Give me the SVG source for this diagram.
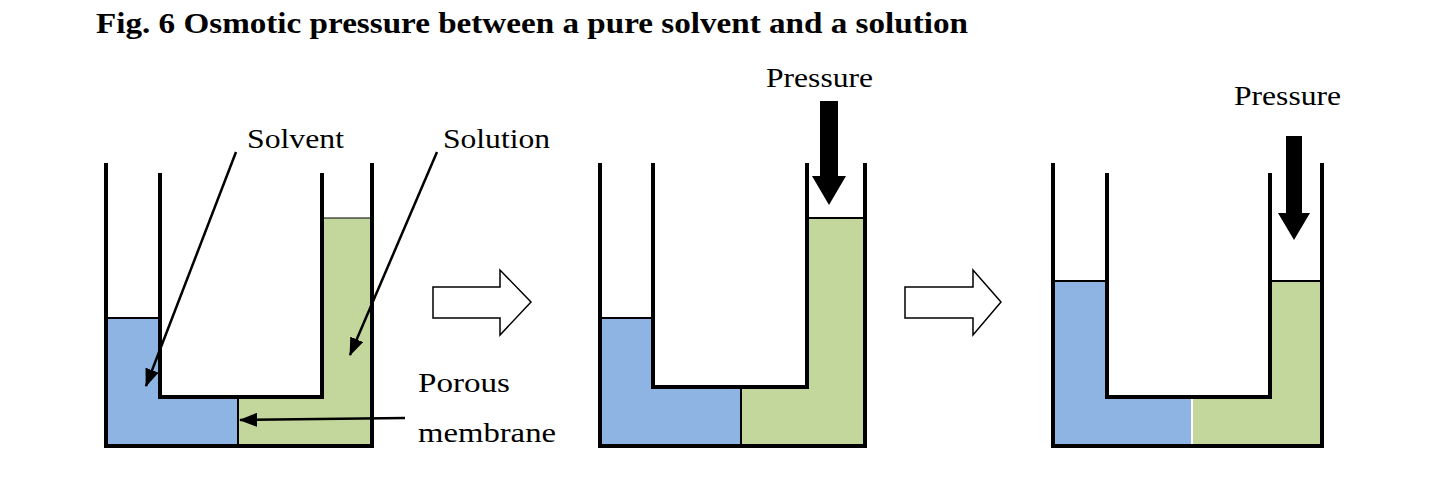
<svg xmlns="http://www.w3.org/2000/svg" width="1437" height="480" viewBox="0 0 1437 480">
<style>
text{font-family:"Liberation Serif",serif;fill:#000}
.t{font-size:29px;font-weight:bold}
.l{font-size:27px}
.w{stroke:#000;stroke-width:4;fill:none;stroke-linecap:square}
.b{fill:#8eb4e3}
.g{fill:#c3d69b}
.m{stroke:#000;stroke-width:2}
.p{stroke:#000;stroke-width:2.5;fill:none}
.h{fill:#fff;stroke:#000;stroke-width:1.5}
</style>
<defs>
<marker id="a2" markerWidth="18" markerHeight="14" refX="17" refY="7" orient="auto" markerUnits="userSpaceOnUse" viewBox="0 0 18 14"><path d="M0,0L18,7L0,14z" fill="#000"/></marker></defs>
<text class="t" x="96" y="33" textLength="872" lengthAdjust="spacingAndGlyphs">Fig. 6 Osmotic pressure between a pure solvent and a solution</text>
<g id="vessel1">
<path class="b" d="M108,318H162V397H238V446H108z"/>
<path class="g" d="M238,397H322V218H370V446H238z"/>
<line class="m" x1="238" y1="397" x2="238" y2="446"/>
<path class="w" d="M106,165V446H372V165M160,175V397H322V175"/>
<line class="m" x1="108" y1="318" x2="160" y2="318"/>
<line x1="322" y1="218" x2="370" y2="218" stroke="#000"/>
</g>
<g id="vessel2">
<path class="b" d="M602,318H654V387H741V446H602z"/>
<path class="g" d="M741,387H807V218H863V446H741z"/>
<line class="m" x1="741" y1="387" x2="741" y2="446"/>
<path class="w" d="M600,165V446H865V165M653,165V387H807V165"/>
<line class="m" x1="602" y1="318" x2="653" y2="318"/>
<line class="m" x1="807" y1="218" x2="863" y2="218"/>
</g>
<g id="vessel3">
<path class="b" d="M1055,281H1108V397H1191V446H1055z"/>
<path class="g" d="M1193,397H1271V281H1320V446H1193z"/>
<path class="w" d="M1053,165V446H1322V165M1107,175V397H1270V175"/>
<line class="m" x1="1055" y1="281" x2="1107" y2="281"/>
<line class="m" x1="1270" y1="281" x2="1320" y2="281"/>
</g>
<g id="labels">
<text class="l" x="247" y="148" textLength="97" lengthAdjust="spacingAndGlyphs">Solvent</text>
<text class="l" x="443" y="148" textLength="107" lengthAdjust="spacingAndGlyphs">Solution</text>
<text class="l" x="418" y="392" textLength="92" lengthAdjust="spacingAndGlyphs">Porous</text>
<text class="l" x="418" y="442" textLength="138" lengthAdjust="spacingAndGlyphs">membrane</text>
<text class="l" x="766" y="87" textLength="107" lengthAdjust="spacingAndGlyphs">Pressure</text>
<text class="l" x="1234" y="105" textLength="107" lengthAdjust="spacingAndGlyphs">Pressure</text>
</g>
<g id="connectors">
<line class="p" x1="236" y1="152" x2="146" y2="386" marker-end="url(#a2)"/>
<line class="p" x1="437" y1="152" x2="350" y2="355" marker-end="url(#a2)"/>
<line class="p" x1="405" y1="418" x2="240" y2="420" marker-end="url(#a2)"/>
<path d="M820,101H838V176H846L829,205L812,176H820z" fill="#000"/>
<path d="M1286,136H1302V213H1310L1294,240L1278,213H1286z" fill="#000"/>
<path class="h" d="M433,287H500V270L531,302L500,335V318H433z"/>
<path class="h" d="M905,287H973V270L1001,302L973,335V318H905z"/>
</g>
</svg>
